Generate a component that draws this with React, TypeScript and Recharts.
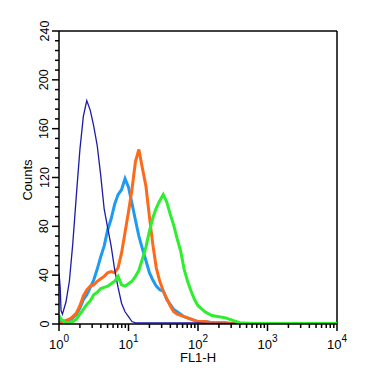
import React from "react";
import { LineChart, Line, XAxis, YAxis, ReferenceLine, Label } from "recharts";

// FL1-H channel values (log scale)
const fl1 = [
  1.0, 1.04, 1.07, 1.12, 1.26, 1.41, 1.58, 1.78, 2.0, 2.24, 2.51, 2.82, 3.16, 3.55, 3.98, 4.47,
  5.01, 5.62, 6.31, 7.08, 7.94, 8.91, 10.0, 11.2, 12.6, 14.1, 15.8, 17.8, 20.0, 22.4, 25.1, 28.2,
  31.6, 35.5, 39.8, 44.7, 50.1, 56.2, 63.1, 70.8, 79.4, 89.1, 100, 126, 158, 200, 251, 316, 398,
  631, 1000, 3162, 10000,
];

const darkBlue = [
  42, 30, 11, 8, 18, 35, 66, 106, 143, 170, 183, 175, 162, 146, 122, 94,
  79, 64, 45, 30, 17, 10, 6, 2, 1, 1, 1, 1, 1, 1, 1, 1,
  1, 1, 1, 1, 1, 1, 1, 1, 1, 1, 1, 0.5, 0.5, 0.5, 0.5, 0.5, 0.5,
  0.5, 0.5, 0.5, 0.5,
];

const lightBlue = [
  5, 4, 3, 2, 2, 3, 5, 8, 13, 20, 24, 30, 36, 45, 55, 64,
  77, 86, 98, 106, 110, 119, 112, 99, 85, 72, 62, 52, 42, 36, 31, 28,
  27, 20, 16, 12, 10, 8, 6, 5, 4, 3, 2, 2, 1, 1, 1, 0.5, 0.5,
  0.5, 0.5, 0.5, 0.5,
];

const orange = [
  1, 1, 1, 2, 3, 4, 6, 9, 15, 23, 28, 31, 32, 35, 37, 39,
  42, 43, 42, 46, 58, 75, 92, 110, 133, 143, 128, 113, 88, 65, 46, 35,
  27, 21, 15, 10, 8, 7, 6, 5, 4, 3, 2, 2, 1, 1, 0.5, 0.5, 0.5,
  0.5, 0.5, 0.5, 0.5,
];

const green = [
  7, 5, 4, 3, 1, 1, 2, 4, 8, 12, 16, 19, 24, 26, 29, 30,
  31, 33, 35, 39, 32, 31, 33, 35, 39, 44, 53, 63, 76, 87, 95, 101,
  106, 100, 90, 81, 70, 60, 45, 35, 27, 20, 15, 10, 7, 6, 5, 3, 1,
  0.5, 0.5, 0.5, 0.5,
];

const xTicks = [
  1, 2, 3, 4, 5, 6, 7, 8, 9,
  10, 20, 30, 40, 50, 60, 70, 80, 90,
  100, 200, 300, 400, 500, 600, 700, 800, 900,
  1000, 2000, 3000, 4000, 5000, 6000, 7000, 8000, 9000,
  10000,
];
const xMajor = [1, 10, 100, 1000, 10000];
const xExponent = ["0", "1", "2", "3", "4"];

const yTicks = [
  0, 8, 16, 24, 32, 40, 48, 56, 64, 72, 80, 88, 96, 104, 112, 120, 128, 136, 144, 152, 160,
  168, 176, 184, 192, 200, 208, 216, 224, 232, 240,
];
const yMajor = [0, 40, 80, 120, 160, 200, 240];

const data = fl1.map((x, i) => ({
  x,
  darkBlue: darkBlue[i],
  lightBlue: lightBlue[i],
  orange: orange[i],
  green: green[i],
}));

const FONT = "'Liberation Sans', Arial, Helvetica, sans-serif";

const XTick = (props: any) => {
  const { x, y, payload } = props;
  const idx = xMajor.indexOf(payload.value);
  const major = idx >= 0;
  return (
    <g>
      <line x1={x} x2={x} y1={y} y2={y + (major ? 7 : 4)} stroke="#000" strokeWidth={1.5} />
      {major && (
        <text x={x} y={y + 24.5} textAnchor="middle" fontFamily={FONT} fontSize={13} fill="#000">
          <tspan>10</tspan>
          <tspan dy={-6.5} fontSize={10}>
            {xExponent[idx]}
          </tspan>
        </text>
      )}
    </g>
  );
};

const YTick = (props: any) => {
  const { x, y, payload } = props;
  const major = yMajor.indexOf(payload.value) >= 0;
  return (
    <g>
      <line x1={x} x2={x - (major ? 7 : 4)} y1={y} y2={y} stroke="#000" strokeWidth={1.5} />
      {major && (
        <text
          x={x - 10.5}
          y={y}
          transform={`rotate(-90 ${x - 10.5} ${y})`}
          textAnchor="middle"
          fontFamily={FONT}
          fontSize={12.5}
          fill="#000"
        >
          {payload.value}
        </text>
      )}
    </g>
  );
};

export default function App() {
  return (
    <div style={{ width: 363, height: 365, background: "#fff" }}>
      <LineChart
        width={363}
        height={365}
        data={data}
        margin={{ top: 23, right: 34, bottom: 0, left: 0 }}
      >
        <XAxis
          type="number"
          dataKey="x"
          scale="log"
          domain={[1, 10000]}
          ticks={xTicks}
          interval={0}
          tick={<XTick />}
          tickLine={false}
          tickSize={0}
          tickMargin={0}
          height={49}
          axisLine={{ stroke: "#000", strokeWidth: 1.5 }}
          allowDataOverflow
        >
          <Label
            content={() => (
              <text x={190} y={354} textAnchor="middle" fontFamily={FONT} fontSize={13} fill="#000">
                FL1-H
              </text>
            )}
          />
        </XAxis>
        <YAxis
          type="number"
          domain={[0, 240]}
          ticks={yTicks}
          interval={0}
          tick={<YTick />}
          tickLine={false}
          tickSize={0}
          tickMargin={0}
          width={51}
          axisLine={{ stroke: "#000", strokeWidth: 1.5 }}
          allowDataOverflow
        >
          <Label
            content={() => (
              <text
                x={24}
                y={172}
                transform="rotate(-90 24 172)"
                textAnchor="middle"
                fontFamily={FONT}
                fontSize={13}
                fill="#000"
              >
                Counts
              </text>
            )}
          />
        </YAxis>
        <ReferenceLine y={240} stroke="#000" strokeWidth={1.5} />
        <ReferenceLine x={10000} stroke="#000" strokeWidth={1.5} />
        <Line
          type="linear"
          dataKey="lightBlue"
          stroke="#1e9bf0"
          strokeWidth={3}
          dot={false}
          isAnimationActive={false}
        />
        <Line
          type="linear"
          dataKey="orange"
          stroke="#ff6a1a"
          strokeWidth={3}
          dot={false}
          isAnimationActive={false}
        />
        <Line
          type="linear"
          dataKey="darkBlue"
          stroke="#1c1ca8"
          strokeWidth={1.3}
          dot={false}
          isAnimationActive={false}
        />
        <Line
          type="linear"
          dataKey="green"
          stroke="#2def2d"
          strokeWidth={3}
          dot={false}
          isAnimationActive={false}
        />
      </LineChart>
    </div>
  );
}
